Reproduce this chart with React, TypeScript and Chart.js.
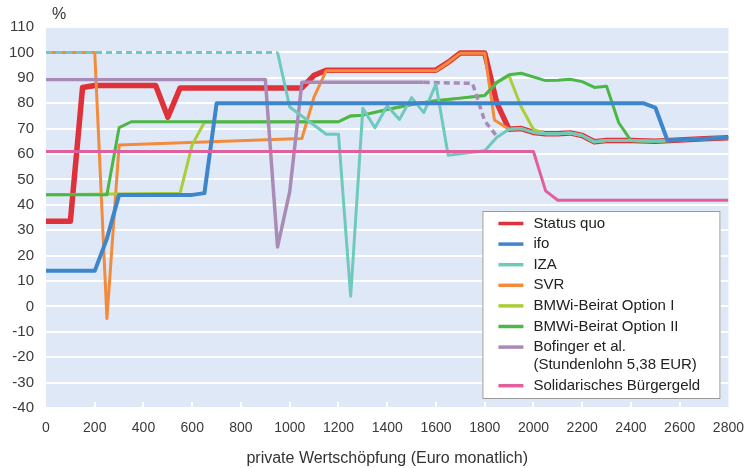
import { useEffect, useRef } from "react";
import { Chart, registerables } from "chart.js";

Chart.register(...registerables);

// ---------- data ----------
const xTicks = [0, 200, 400, 600, 800, 1000, 1200, 1400, 1600, 1800, 2000, 2200, 2400, 2600, 2800];
const yTicks = [110, 100, 90, 80, 70, 60, 50, 40, 30, 20, 10, 0, -10, -20, -30, -40];

const seriesLabels = [
  ["Status quo"],
  ["ifo"],
  ["IZA"],
  ["SVR"],
  ["BMWi-Beirat Option I"],
  ["BMWi-Beirat Option II"],
  ["Bofinger et al.", "(Stundenlohn 5,38 EUR)"],
  ["Solidarisches Bürgergeld"],
];

const statusQuoX = [0, 100, 150, 200, 450, 500, 550, 1050, 1100, 1150, 1600, 1650, 1700, 1800, 1850, 1900, 1950, 2000, 2050, 2100, 2150, 2200, 2250, 2300, 2400, 2500, 2600, 2700, 2800];
const statusQuoY = [33.5, 33.5, 86.2, 87, 87, 74.5, 86, 86, 91, 93, 93, 96.1, 99.8, 99.8, 80, 69.7, 70, 68.5, 68, 68, 68.3, 67.3, 64.8, 65.3, 65.3, 65, 65.5, 66, 66.4];

const ifoX = [0, 200, 250, 300, 600, 650, 700, 2450, 2500, 2550, 2600, 2700, 2800];
const ifoY = [14, 14, 26.7, 43.9, 43.9, 44.6, 80, 80, 78.3, 65.3, 65.5, 66, 66.4];

const izaX = [0, 950, 1000, 1150, 1200, 1250, 1300, 1350, 1400, 1450, 1500, 1550, 1600, 1650, 1800, 1850, 1900, 1950, 2000, 2050, 2100, 2150, 2200, 2250, 2300, 2400, 2500, 2600, 2700, 2800];
const izaY = [100, 100, 78.5, 67.8, 67.8, 4, 78, 70.3, 79, 73.6, 82.2, 76.3, 87.5, 59.5, 61.3, 66.6, 69.7, 70, 68.5, 68, 68, 68.3, 67.3, 64.8, 65.3, 65.3, 65, 65.5, 66, 66.4];

const svrX = [0, 200, 250, 300, 1050, 1100, 1150, 1600, 1650, 1700, 1800, 1840, 1900, 1950, 2000, 2050, 2100, 2150, 2200, 2250, 2300, 2400, 2500, 2600, 2700, 2800];
const svrY = [100, 100, -4.8, 63.5, 66.1, 82.5, 92.8, 92.8, 96, 99.7, 99.7, 73.4, 69.7, 70, 68.5, 68, 68, 68.3, 67.3, 64.8, 65.3, 65.3, 65, 65.5, 66, 66.4];

const bmwi1X = [0, 550, 600, 650, 1200, 1250, 1300, 1400, 1500, 1600, 1700, 1800, 1850, 1900, 1950, 2000, 2050, 2100, 2150, 2200, 2250, 2300, 2400, 2500, 2600, 2700, 2800];
const bmwi1Y = [44, 44.5, 63.7, 72.5, 72.7, 75, 75.3, 77.5, 79.5, 81, 82, 83, 88.2, 90.8, 78.5, 69.7, 68, 68, 68.3, 67.3, 64.8, 65.3, 65.3, 65, 65.5, 66, 66.4];

const bmwi2X = [0, 250, 300, 350, 1200, 1250, 1300, 1400, 1500, 1600, 1700, 1800, 1850, 1900, 1950, 2050, 2100, 2150, 2200, 2250, 2300, 2350, 2400, 2500, 2600, 2700, 2800];
const bmwi2Y = [44, 44, 70.4, 72.7, 72.7, 75, 75.3, 77.5, 79.5, 81, 82, 83, 88.2, 91.2, 91.8, 88.9, 89, 89.4, 88.5, 86.2, 86.7, 72.3, 65.3, 65, 65.5, 66, 66.4];

const bofingerX = [0, 900, 950, 1000, 1050, 1550, 1750, 1800, 1850];
const bofingerY = [89.3, 89.3, 23.4, 45.2, 88.2, 88.2, 87.8, 73, 67];

const buergergeldX = [0, 2000, 2050, 2100, 2800];
const buergergeldY = [61, 61, 45.5, 41.8, 41.8];

// ---------- styles ----------
const colors = ["#de3139", "#3d86cb", "#6ec9bf", "#f28b3b", "#aacd3a", "#4cb748", "#a98bb6", "#e0609f"];
const widths = [5.5, 4, 3, 3, 3, 3, 3.5, 3];
const drawOrder = [7, 1, 2, 6, 5, 4, 3, 0]; // lower = drawn on top
const FONT = '"Liberation Sans", Arial, Helvetica, sans-serif';

const toPoints = (xs: number[], ys: number[]) => xs.map((x, i) => ({ x, y: ys[i] }));

const bgPlugin = {
  id: "plotBg",
  beforeDraw(chart: any) {
    const { ctx, chartArea } = chart;
    ctx.save();
    ctx.fillStyle = "#dfe8f6";
    ctx.fillRect(chartArea.left, chartArea.top, chartArea.right - chartArea.left, chartArea.bottom - chartArea.top);
    ctx.restore();
  },
  beforeDatasetsDraw(chart: any) {
    const { ctx, chartArea, scales } = chart;
    ctx.save();
    ctx.strokeStyle = "#ffffff";
    ctx.lineWidth = 2;
    xTicks.forEach((v) => {
      if (v === xTicks[0] || v === xTicks[xTicks.length - 1]) return;
      const px = Math.round(scales.x.getPixelForValue(v));
      ctx.beginPath();
      ctx.moveTo(px, chartArea.bottom);
      ctx.lineTo(px, chartArea.bottom - 6);
      ctx.stroke();
    });
    ctx.restore();
  },
};

const textPlugin = {
  id: "extraText",
  afterDraw(chart: any) {
    const { ctx, chartArea } = chart;
    ctx.save();
    // unit label
    ctx.fillStyle = "#333333";
    ctx.font = `16px ${FONT}`;
    ctx.textBaseline = "middle";
    ctx.textAlign = "left";
    ctx.fillText("%", chartArea.left + 6, 15);

    // legend box
    const boxW = 238;
    const boxH = 188;
    const x0 = chartArea.right - 8 - boxW;
    const y0 = chartArea.bottom - 9 - boxH;
    ctx.fillStyle = "#ffffff";
    ctx.fillRect(x0, y0, boxW, boxH);
    ctx.strokeStyle = "#9a9a9a";
    ctx.lineWidth = 1;
    ctx.strokeRect(x0 + 0.5, y0 + 0.5, boxW - 1, boxH - 1);
    ctx.font = `15px ${FONT}`;
    ctx.textBaseline = "middle";
    let y = y0 + 12.5;
    seriesLabels.forEach((lines, i) => {
      ctx.strokeStyle = colors[i];
      ctx.lineWidth = 3.5;
      ctx.beginPath();
      ctx.moveTo(x0 + 16, y);
      ctx.lineTo(x0 + 41, y);
      ctx.stroke();
      ctx.fillStyle = "#222222";
      lines.forEach((t, j) => {
        ctx.fillText(t, x0 + 51, y + j * 17.5);
      });
      y += 20.6 + (lines.length - 1) * 18;
    });
    ctx.restore();
  },
};

export default function App() {
  const ref = useRef<HTMLCanvasElement | null>(null);

  useEffect(() => {
    if (!ref.current) return;
    const allX = [statusQuoX, ifoX, izaX, svrX, bmwi1X, bmwi2X, bofingerX, buergergeldX];
    const allY = [statusQuoY, ifoY, izaY, svrY, bmwi1Y, bmwi2Y, bofingerY, buergergeldY];
    const datasets = allX.map((xs, i) => {
      const ds: any = {
        label: seriesLabels[i].join(" "),
        data: toPoints(xs, allY[i]),
        borderColor: colors[i],
        backgroundColor: colors[i],
        borderWidth: widths[i],
        pointRadius: 0,
        tension: 0,
        fill: false,
        order: drawOrder[i],
        borderJoinStyle: "round",
        borderCapStyle: "butt",
      };
      if (i === 2) {
        ds.segment = { borderDash: (c: any) => (c.p1.parsed.x <= 950 ? [6, 4] : undefined) };
      }
      if (i === 6) {
        ds.segment = { borderDash: (c: any) => (c.p0.parsed.x >= 1550 ? [6, 4] : undefined) };
      }
      return ds;
    });

    const chart = new Chart(ref.current, {
      type: "line",
      data: { datasets },
      options: {
        animation: false,
        responsive: false,
        maintainAspectRatio: false,
        layout: { padding: { top: 27, right: 21, left: 8, bottom: 0 } },
        plugins: { legend: { display: false }, tooltip: { enabled: false } },
        scales: {
          x: {
            type: "linear",
            min: xTicks[0],
            max: xTicks[xTicks.length - 1],
            afterBuildTicks: (s: any) => {
              s.ticks = xTicks.map((v) => ({ value: v }));
            },
            ticks: {
              callback: (v: any) => String(v),
              color: "#3a3a3a",
              font: { family: FONT, size: 14 },
              padding: 12,
              maxRotation: 0,
              autoSkip: false,
            },
            grid: { display: false, drawTicks: false },
            border: { display: false },
            title: {
              display: true,
              text: "private Wertschöpfung (Euro monatlich)",
              color: "#333333",
              font: { family: FONT, size: 16 },
              padding: { top: 0, bottom: 0 },
            },
          },
          y: {
            min: yTicks[yTicks.length - 1],
            max: yTicks[0],
            afterBuildTicks: (s: any) => {
              s.ticks = yTicks.slice().reverse().map((v) => ({ value: v }));
            },
            afterFit: (s: any) => {
              s.width = 38;
            },
            ticks: {
              callback: (v: any) => String(v),
              color: "#3a3a3a",
              font: { family: FONT, size: 15 },
              padding: 12,
              autoSkip: false,
            },
            grid: { color: "#ffffff", lineWidth: 2, drawTicks: false },
            border: { display: false },
          },
        },
      },
      plugins: [bgPlugin, textPlugin],
    });
    return () => chart.destroy();
  }, []);

  return (
    <div style={{ position: "absolute", left: 0, top: 0, width: 756, height: 468, background: "#fff" }}>
      <canvas ref={ref} width={756} height={468} style={{ width: 756, height: 468, display: "block" }} />
    </div>
  );
}
